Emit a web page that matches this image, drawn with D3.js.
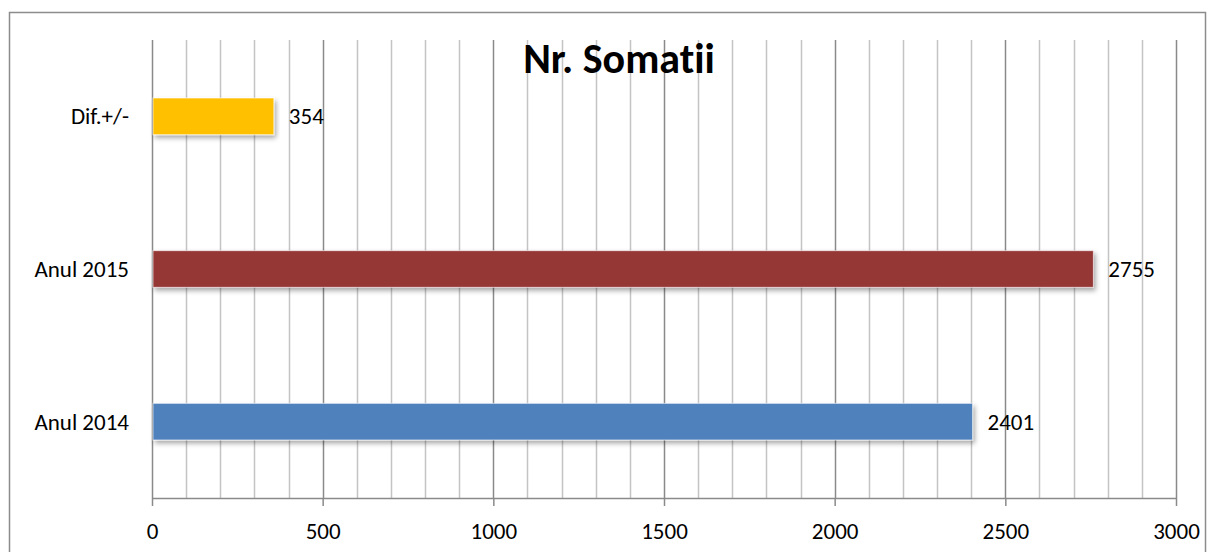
<!DOCTYPE html>
<html><head><meta charset="utf-8">
<script src="https://cdn.jsdelivr.net/npm/d3@7/dist/d3.min.js"></script>
<style>body{margin:0;background:#fff}svg{display:block}text{font-family:Carlito,Lato,"Open Sans",sans-serif;font-variant-ligatures:none}</style>
</head><body>
<svg id="c" width="1216" height="552"></svg>
<script>
const categories = ["Anul 2014", "Anul 2015", "Dif.+/-"];
const values = [2401, 2755, 354];
const colors = ["#4F81BD", "#953735", "#FFC000"];
const tickValues = [0, 500, 1000, 1500, 2000, 2500, 3000];
const title = "Nr. Somatii";

const FS = 23;
const svg = d3.select("#c");
const defs = svg.append("defs");
const f = defs.append("filter").attr("id","sh").attr("x","-5%").attr("y","-30%").attr("width","110%").attr("height","180%");
f.append("feDropShadow").attr("dx",2).attr("dy",3).attr("stdDeviation",2.5).attr("flood-color","#000").attr("flood-opacity",0.35);

svg.append("rect").attr("x",9.5).attr("y",12.5).attr("width",1196).attr("height",560)
  .attr("fill","#fff").attr("stroke","#8c8c8c").attr("stroke-width",1.5);

const x = d3.scaleLinear().domain([0,3000]).range([152,1176]);
const y = d3.scaleBand().domain(categories.slice().reverse()).range([40,498]).paddingInner(0.76).paddingOuter(0.38);

// gridlines
const minor = d3.range(100, 3001, 100).filter(v => v % 500 !== 0);
svg.append("g").selectAll("line").data(minor).join("line")
  .attr("x1",d=>Math.round(x(d))+0.5).attr("x2",d=>Math.round(x(d))+0.5)
  .attr("y1",40).attr("y2",498).attr("stroke","#c4c4c4").attr("stroke-width",1.5);
svg.append("g").selectAll("line").data(tickValues).join("line")
  .attr("x1",d=>Math.round(x(d))+0.5).attr("x2",d=>Math.round(x(d))+0.5)
  .attr("y1",40).attr("y2",498).attr("stroke","#8a8a8a").attr("stroke-width",1.5);

// axis
const ax = svg.append("g").attr("transform","translate(0,498)")
  .call(d3.axisBottom(x).tickValues(tickValues).tickFormat(d3.format("d")).tickSize(8).tickPadding(17).tickSizeOuter(0));
ax.attr("font-size",FS).attr("font-family",null);
ax.select(".domain").attr("stroke","#8a8a8a").attr("stroke-width",1.5);
ax.selectAll(".tick line").attr("stroke","#8a8a8a").attr("stroke-width",1.5);
ax.selectAll("text").attr("fill","#000");

// bars
svg.append("g").selectAll("rect").data(values).join("rect")
  .attr("x",x(0)+1).attr("y",(d,i)=>y(categories[i]))
  .attr("width",d=>x(d)-x(0)).attr("height",y.bandwidth())
  .attr("fill",(d,i)=>colors[i]).attr("stroke","#fff").attr("stroke-opacity",0.6).attr("stroke-width",1)
  .attr("filter","url(#sh)");

// value labels
svg.append("g").selectAll("text").data(values).join("text")
  .attr("x",d=>x(d)+16).attr("y",(d,i)=>y(categories[i])+y.bandwidth()/2)
  .attr("dy","0.35em").attr("font-size",FS).attr("fill","#000").text(d=>d);

// category labels
svg.append("g").selectAll("text").data(categories).join("text")
  .attr("x",129).attr("y",d=>y(d)+y.bandwidth()/2).attr("dy","0.35em")
  .attr("text-anchor","end").attr("font-size",FS).attr("fill","#000").text(d=>d);

svg.append("text").attr("x",619).attr("y",73).attr("text-anchor","middle")
  .attr("font-size",42).attr("font-weight","bold").attr("fill","#000").text(title);
</script>
</body></html>
